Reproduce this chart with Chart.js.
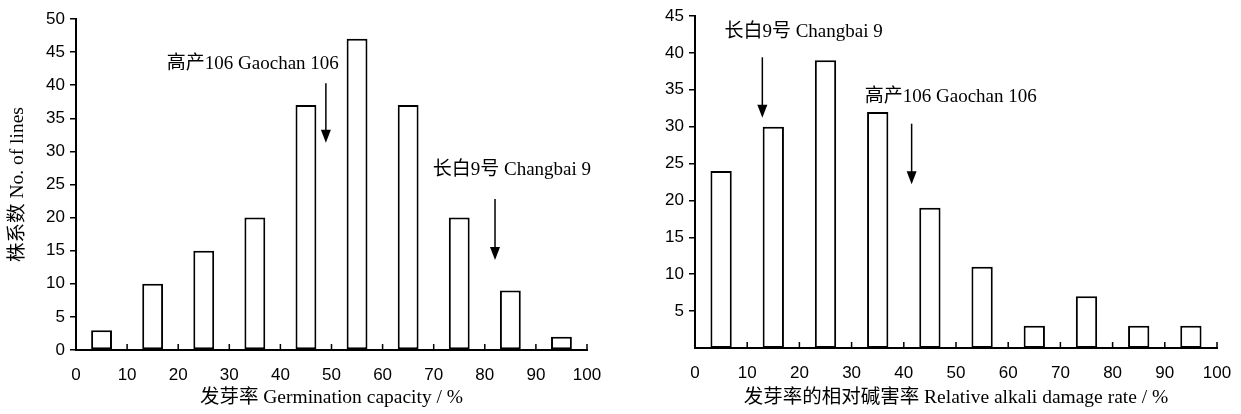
<!DOCTYPE html>
<html>
<head>
<meta charset="utf-8">
<script src="https://cdn.jsdelivr.net/npm/chart.js@4"></script>
<style>
  body { margin: 0; background: #fff; }
  .box { position: absolute; top: 0; }
</style>
</head>
<body>
<div class="box" style="left:0"><canvas id="left" width="620" height="414"></canvas></div>
<div class="box" style="left:620px"><canvas id="right" width="621" height="414"></canvas></div>
<script>
// bin centres of the histograms (%)
const binCenters = [5, 15, 25, 35, 45, 55, 65, 75, 85, 95];
const germinationCounts = [3, 10, 15, 20, 37, 47, 37, 20, 9, 2];
const alkaliCounts = [24, 30, 39, 32, 19, 11, 3, 7, 3, 3];
const xTickValues = [0, 10, 20, 30, 40, 50, 60, 70, 80, 90, 100];
const leftYTicks = [0, 5, 10, 15, 20, 25, 30, 35, 40, 45, 50];
const rightYTicks = [5, 10, 15, 20, 25, 30, 35, 40, 45];

const leftNotes = [
  { label: "高产106 Gaochan 106", textX: 34.6, textY: 43.2, arrowX: 48.9, from: 40.3, to: 31.3 },
  { label: "长白9号 Changbai 9", textX: 85.3, textY: 27.2, arrowX: 82, from: 22.8, to: 13.6 }
];
const rightNotes = [
  { label: "长白9号 Changbai 9", textX: 20.8, textY: 42.8, arrowX: 12.9, from: 39.4, to: 31.2 },
  { label: "高产106 Gaochan 106", textX: 49.0, textY: 34.0, arrowX: 41.5, from: 30.4, to: 22.2 }
];

const serif = "'Liberation Serif', 'Noto Sans CJK SC', serif";
const sans = "'Liberation Sans', Arial, sans-serif";

const overlay = {
  id: "overlay",
  afterDraw(chart, args, opts) {
    const { ctx, scales: { x, y } } = chart;
    ctx.save();
    ctx.strokeStyle = "#000";
    ctx.fillStyle = "#000";
    // small ticks on x axis pointing up
    ctx.lineWidth = 1.5;
    ctx.beginPath();
    xTickValues.forEach(v => {
      if (v === 0) return;
      const px = x.getPixelForValue(v);
      ctx.moveTo(px, y.bottom);
      ctx.lineTo(px, y.bottom - 6);
    });
    ctx.stroke();
    // notes with arrows
    ctx.font = "19px " + serif;
    ctx.textAlign = "center";
    ctx.textBaseline = "middle";
    opts.notes.forEach(n => {
      ctx.fillText(n.label, x.getPixelForValue(n.textX), y.getPixelForValue(n.textY));
      const ax = x.getPixelForValue(n.arrowX);
      const y0 = y.getPixelForValue(n.from);
      const y1 = y.getPixelForValue(n.to);
      ctx.lineWidth = 1.5;
      ctx.beginPath();
      ctx.moveTo(ax, y0);
      ctx.lineTo(ax, y1 - 12);
      ctx.stroke();
      ctx.beginPath();
      ctx.moveTo(ax - 5, y1 - 13);
      ctx.lineTo(ax + 5, y1 - 13);
      ctx.lineTo(ax, y1);
      ctx.closePath();
      ctx.fill();
    });
    ctx.restore();
  }
};

function makeChart(id, counts, yMax, yTicks, yTitle, xTitle, notes, pad, yWidth, xHeight) {
  return new Chart(document.getElementById(id), {
    type: "bar",
    data: {
      datasets: [{
        data: binCenters.map((c, i) => ({ x: c, y: counts[i] })),
        backgroundColor: "#fff",
        borderColor: "#000",
        borderWidth: 2,
        borderSkipped: false,
        categoryPercentage: 0.8,
        barPercentage: 0.51
      }]
    },
    options: {
      responsive: false,
      animation: false,
      layout: { padding: pad },
      plugins: { legend: { display: false }, tooltip: { enabled: false }, overlay: { notes } },
      scales: {
        x: {
          type: "linear",
          offset: false,
          min: 0, max: 100,
          afterBuildTicks: s => { s.ticks = xTickValues.map(v => ({ value: v })); },
          grid: { display: false },
          border: { color: "#000", width: 2 },
          ticks: { color: "#000", font: { family: sans, size: 17 }, padding: 7, maxRotation: 0 },
          title: { display: true, text: xTitle, color: "#000", font: { family: serif, size: 19.5 }, padding: { top: 8 } },
          afterFit: s => { s.height = xHeight; }
        },
        y: {
          min: 0, max: yMax,
          afterBuildTicks: s => { s.ticks = yTicks.map(v => ({ value: v })); },
          grid: { drawOnChartArea: false, tickLength: 6, color: "#000", lineWidth: 1.5 },
          border: { color: "#000", width: 2 },
          ticks: { color: "#000", font: { family: sans, size: 17 }, padding: 5 },
          title: { display: !!yTitle, text: yTitle, color: "#000", font: { family: serif, size: 19.5 }, padding: 0 },
          afterFit: s => { s.width = yWidth; }
        }
      }
    },
    plugins: [overlay]
  });
}

makeChart("left", germinationCounts, 50, leftYTicks, "株系数 No. of lines",
  "发芽率 Germination capacity / %", leftNotes,
  { top: 19, right: 33, left: 6, bottom: 0 }, 70, 64);
makeChart("right", alkaliCounts, 45, rightYTicks, "",
  "发芽率的相对碱害率 Relative alkali damage rate / %", rightNotes,
  { top: 16, right: 24, left: 0, bottom: 0 }, 75, 66);
</script>
</body>
</html>
